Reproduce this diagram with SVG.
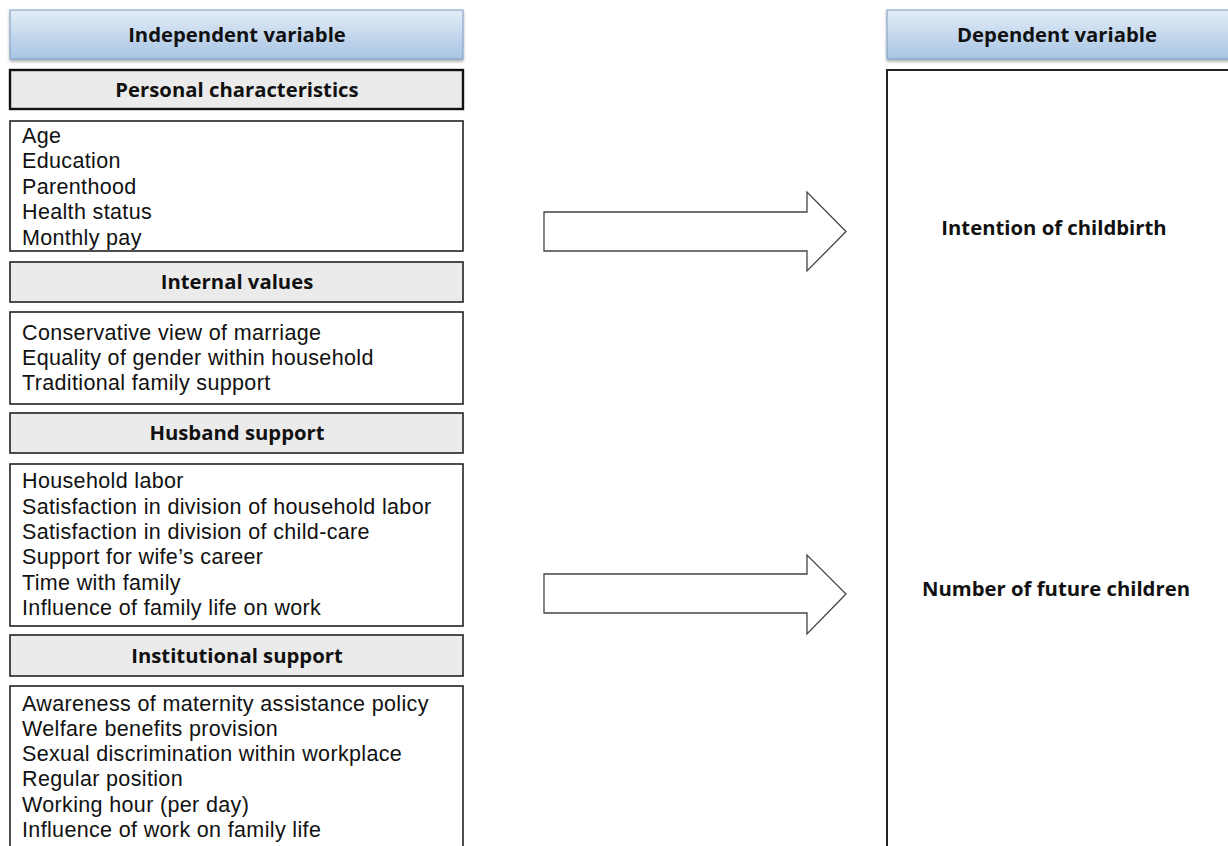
<svg xmlns="http://www.w3.org/2000/svg" width="1228" height="846" viewBox="0 0 1228 846">
<style>
.hdr{stroke:#7d9cc4;stroke-width:1}
.cat{fill:#ebebeb;stroke:#222;stroke-width:1.6}
.cat1{fill:#ebebeb;stroke:#111;stroke-width:2.4}
.lst{fill:#fff;stroke:#222;stroke-width:1.6}
.b{font-family:"Open Sans","Liberation Sans",sans-serif;font-weight:bold;font-size:20.3px;fill:#111;text-anchor:middle}
.t{font-family:"Liberation Sans",Arial,sans-serif;font-size:21.5px;letter-spacing:0.35px;fill:#111}
.arr{fill:#fff;stroke:#444;stroke-width:1.3}
</style>
<defs>
<linearGradient id="g" x1="0" y1="0" x2="0" y2="1">
<stop offset="0" stop-color="#e3edf7"/>
<stop offset="1" stop-color="#a7c4e4"/>
</linearGradient>
<filter id="sh" x="-5%" y="-20%" width="110%" height="150%">
<feDropShadow dx="0" dy="2" stdDeviation="1.5" flood-color="#000" flood-opacity="0.35"/>
</filter>
</defs>
<rect width="1228" height="846" fill="#fff"/>
<g id="independent-header">
<rect class="hdr" x="10" y="10" width="453" height="49" fill="url(#g)" filter="url(#sh)"/>
<text class="b" x="237" y="42">Independent variable</text>
</g>
<g id="personal-header">
<rect class="cat1" x="10" y="70" width="453" height="39"/>
<text class="b" x="237" y="97">Personal characteristics</text>
</g>
<g id="personal-list">
<rect class="lst" x="10" y="121" width="453" height="130"/>
<text class="t" x="22" y="143">Age</text>
<text class="t" x="22" y="168">Education</text>
<text class="t" x="22" y="194">Parenthood</text>
<text class="t" x="22" y="219">Health status</text>
<text class="t" x="22" y="245">Monthly pay</text>
</g>
<g id="internal-header">
<rect class="cat" x="10" y="262" width="453" height="40"/>
<text class="b" x="237" y="289">Internal values</text>
</g>
<g id="internal-list">
<rect class="lst" x="10" y="312" width="453" height="92"/>
<text class="t" x="22" y="340">Conservative view of marriage</text>
<text class="t" x="22" y="365">Equality of gender within household</text>
<text class="t" x="22" y="390">Traditional family support</text>
</g>
<g id="husband-header">
<rect class="cat" x="10" y="413" width="453" height="40"/>
<text class="b" x="237" y="440">Husband support</text>
</g>
<g id="husband-list">
<rect class="lst" x="10" y="464" width="453" height="162"/>
<text class="t" x="22" y="488">Household labor</text>
<text class="t" x="22" y="514">Satisfaction in division of household labor</text>
<text class="t" x="22" y="539">Satisfaction in division of child-care</text>
<text class="t" x="22" y="564">Support for wife’s career</text>
<text class="t" x="22" y="590">Time with family</text>
<text class="t" x="22" y="615">Influence of family life on work</text>
</g>
<g id="institutional-header">
<rect class="cat" x="10" y="635" width="453" height="41"/>
<text class="b" x="237" y="663">Institutional support</text>
</g>
<g id="institutional-list">
<rect class="lst" x="10" y="686" width="453" height="180"/>
<text class="t" x="22" y="711">Awareness of maternity assistance policy</text>
<text class="t" x="22" y="736">Welfare benefits provision</text>
<text class="t" x="22" y="761">Sexual discrimination within workplace</text>
<text class="t" x="22" y="786">Regular position</text>
<text class="t" x="22" y="812">Working hour (per day)</text>
<text class="t" x="22" y="837">Influence of work on family life</text>
</g>
<g id="dependent-header">
<rect class="hdr" x="887" y="10" width="360" height="49" fill="url(#g)" filter="url(#sh)"/>
<text class="b" x="1057" y="42">Dependent variable</text>
</g>
<g id="dependent-box">
<rect x="887" y="70" width="360" height="800" fill="#fff" stroke="#222" stroke-width="2"/>
<text class="b" x="1054" y="235">Intention of childbirth</text>
<text class="b" x="1056" y="596">Number of future children</text>
</g>
<g id="connectors">
<polygon class="arr" points="544,212 807,212 807,192 846,231.5 807,271 807,251 544,251"/>
<polygon class="arr" points="544,574 807,574 807,555 846,594 807,634 807,613 544,613"/>
</g>
</svg>
